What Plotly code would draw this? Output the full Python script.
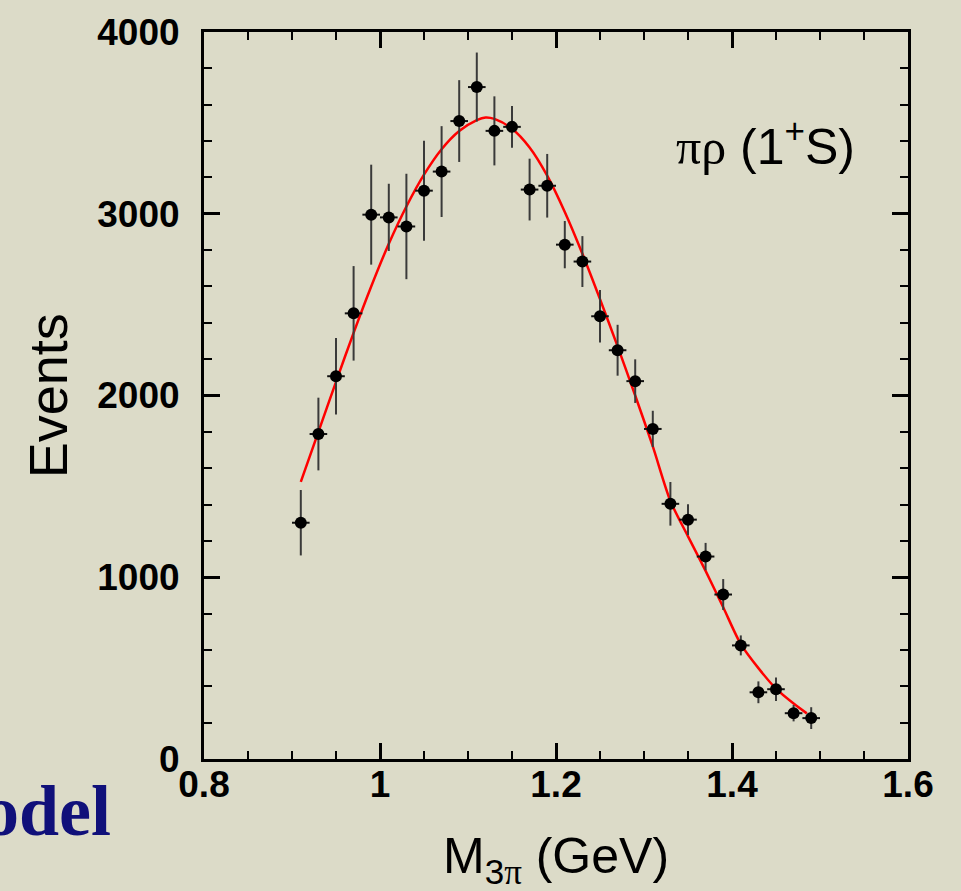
import plotly.graph_objects as go

# Data points (bin centres, events, errors)
mass = [0.91, 0.93, 0.95, 0.97, 0.99, 1.01, 1.03, 1.05, 1.07, 1.09,
        1.11, 1.13, 1.15, 1.17, 1.19, 1.21, 1.23, 1.25, 1.27, 1.29,
        1.31, 1.33, 1.35, 1.37, 1.39, 1.41, 1.43, 1.45, 1.47, 1.49]
events = [1300, 1788, 2106, 2452, 2995, 2980, 2930, 3127, 3232, 3510,
          3697, 3456, 3478, 3133, 3154, 2830, 2737, 2436, 2249, 2079,
          1816, 1404, 1317, 1114, 905, 625, 367, 384, 252, 225]
err_y = [180, 200, 210, 260, 275, 185, 290, 275, 250, 225,
         190, 190, 115, 170, 175, 130, 140, 145, 140, 120,
         100, 120, 85, 75, 85, 55, 60, 65, 45, 60]
err_x = [0.01] * len(mass)

# Fit curve
fit_x = [0.91, 0.93, 0.95, 0.97, 0.99, 1.01, 1.03, 1.05, 1.07, 1.09,
         1.11, 1.12, 1.13, 1.15, 1.17, 1.19, 1.21, 1.23, 1.25, 1.27,
         1.29, 1.31, 1.33, 1.35, 1.37, 1.39, 1.41, 1.43, 1.45, 1.47, 1.485]
fit_y = [1525, 1800, 2075, 2345, 2600, 2835, 3040, 3215, 3355, 3455,
         3515, 3530, 3522, 3468, 3365, 3210, 3010, 2780, 2530, 2270,
         2000, 1720, 1420, 1225, 1035, 835, 632, 500, 387, 305, 251]

x_ticks = [0.8, 1.0, 1.2, 1.4, 1.6]
x_tick_labels = ["0.8", "1", "1.2", "1.4", "1.6"]
y_ticks = [0, 1000, 2000, 3000, 4000]
y_tick_labels = ["0", "1000", "2000", "3000", "4000"]

BG = "#dcdbc8"
fig = go.Figure()

fig.add_trace(go.Scatter(
    x=fit_x, y=fit_y, mode="lines",
    line=dict(color="#ff0000", width=2.5, shape="spline", smoothing=0.8),
    hoverinfo="skip", showlegend=False))

fig.add_trace(go.Scatter(
    x=mass, y=events, mode="markers",
    marker=dict(color="black", size=12),
    error_y=dict(type="data", array=err_y, color="#3a3a3a", thickness=2, width=0),
    error_x=dict(type="data", array=err_x, color="#111111", thickness=2, width=0),
    showlegend=False))

axis_common = dict(
    showgrid=False, zeroline=False, showline=True, linecolor="black", linewidth=3,
    mirror="allticks", ticks="inside", ticklen=16, tickwidth=2.5, tickcolor="black",
    tickfont=dict(family="Liberation Sans", size=37, color="black", weight="bold"),
)

fig.update_xaxes(range=[0.8, 1.6], tickvals=x_ticks, ticktext=x_tick_labels,
                 minor=dict(dtick=0.05, ticks="inside", ticklen=8, tickwidth=2, tickcolor="black"),
                 ticklabelstandoff=-9, **axis_common)
fig.update_yaxes(range=[0, 4000], tickvals=y_ticks, ticktext=y_tick_labels,
                 minor=dict(dtick=200, ticks="inside", ticklen=8, tickwidth=2, tickcolor="black"),
                 ticklabelstandoff=14, **axis_common)

serif = "font-family:'Liberation Serif'"
fig.add_annotation(
    xref="paper", yref="paper", x=0.5, y=-0.092, xanchor="center", yanchor="top",
    text=f"M<sub>3<span style=\"{serif}\">π</span></sub> (GeV)", showarrow=False,
    font=dict(family="Liberation Sans", size=50, color="black"))
fig.add_annotation(
    xref="paper", yref="paper", x=-0.222, y=0.5, xanchor="center", yanchor="middle",
    text="Events", textangle=-90, showarrow=False,
    font=dict(family="Liberation Sans", size=54, color="black"))
fig.add_annotation(
    xref="paper", yref="paper", x=0.798, y=0.847, xanchor="center", yanchor="middle",
    text=f"<span style=\"{serif}\">πρ</span> (1<sup>+</sup>S)", showarrow=False,
    font=dict(family="Liberation Sans", size=50, color="black"))
fig.add_annotation(
    xref="paper", yref="paper", x=-0.129, y=-0.072, xanchor="right", yanchor="middle",
    text="<b>Model</b>", showarrow=False,
    font=dict(family="Liberation Serif", size=72, color="#10107a"))

fig.update_layout(
    width=961, height=891, autosize=False,
    margin=dict(l=204, r=53, t=30, b=132),
    paper_bgcolor=BG, plot_bgcolor=BG,
)

fig.write_html(
    "out.html",
    config={"displayModeBar": False},
    post_script="document.body.style.margin='0';document.body.style.background='#dcdbc8';",
)
